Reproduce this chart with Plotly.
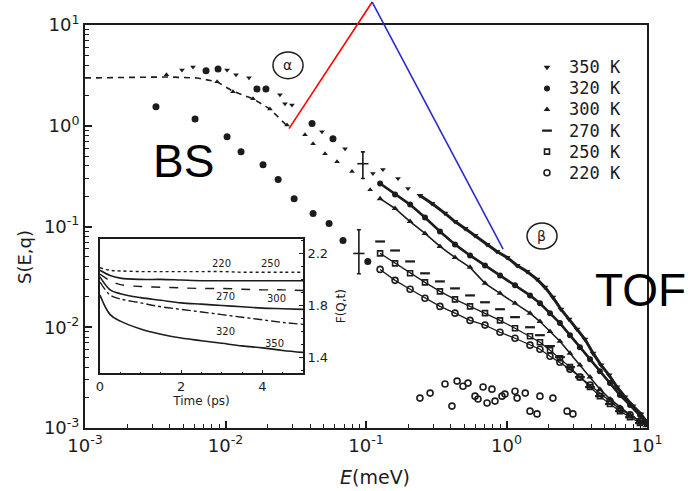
import plotly.graph_objects as go

# ---------------- main panel: S(E,q) versus E (log-log) ----------------
# backscattering (BS) range
bs350_E = [0.0049, 0.00587, 0.01026, 0.01189, 0.01469, 0.0244, 0.0265, 0.0297, 0.0486, 0.0709, 0.112, 0.132, 0.169, 0.199]
bs350_S = [3.58, 3.84, 3.58, 3.20, 2.99, 2.03, 1.65, 1.61, 0.873, 0.591, 0.335, 0.367, 0.299, 0.238]
bs320_E = [0.00727, 0.00885, 0.01675, 0.0194, 0.0413, 0.0582]
bs320_S = [3.51, 3.66, 2.32, 2.32, 1.05, 0.743]
bs300_E = [0.0038, 0.00871, 0.0113, 0.0157, 0.0207, 0.0274, 0.0368, 0.0420, 0.0511, 0.0622, 0.0795, 0.107]
bs300_S = [3.2, 2.73, 2.17, 1.85, 1.47, 1.02, 0.815, 0.664, 0.528, 0.440, 0.351, 0.232]
bs220_E = [0.0032, 0.00607, 0.01026, 0.0129, 0.0185, 0.0237, 0.0308, 0.042, 0.0546, 0.0686, 0.103]
bs220_S = [1.54, 1.17, 0.778, 0.553, 0.411, 0.292, 0.189, 0.1345, 0.107, 0.0727, 0.045]

# model curve through the low-energy BS plateau
fit_E = [0.001, 0.002, 0.0038, 0.0063, 0.0087, 0.0113, 0.0157, 0.0207, 0.0274]
fit_S = [2.98, 3.0, 3.05, 2.98, 2.73, 2.2, 1.85, 1.47, 1.0]

# time-of-flight (TOF) range
tof350_E = [0.242, 0.295, 0.365, 0.430, 0.507, 0.597, 0.727, 0.855, 1.01, 1.19, 1.40, 1.65, 1.88,
            2.14, 2.44, 2.79, 3.18, 3.62, 4.13, 4.71, 5.37, 6.12, 6.97, 7.95, 9.06, 9.84]
tof350_S = [0.203, 0.169, 0.135, 0.112, 0.0955, 0.0814, 0.0664, 0.0565, 0.0493, 0.0411, 0.0358, 0.0299, 0.0249,
            0.0198, 0.0151, 0.0120, 0.00955, 0.0076, 0.00553, 0.00421, 0.00335, 0.00255, 0.00203, 0.00165, 0.00138, 0.00117]

tof_E = [0.126, 0.161, 0.206, 0.263, 0.336, 0.430, 0.550, 0.703, 0.899, 1.15, 1.47, 1.73,
         2.04, 2.40, 2.83, 3.33, 3.93, 4.62, 5.45, 6.42, 7.57, 8.91, 9.84]
tof320_S = [0.267, 0.208, 0.165, 0.123, 0.0892, 0.0664, 0.0516, 0.0411, 0.0327, 0.0261, 0.0207, 0.0173,
            0.0138, 0.0110, 0.00834, 0.00634, 0.00482, 0.00366, 0.00279, 0.00212, 0.00169, 0.00135, 0.00115]
tof300_S = [0.189, 0.151, 0.112, 0.0853, 0.0634, 0.0493, 0.0393, 0.0273, 0.0217, 0.0173, 0.0138, 0.0114,
            0.0091, 0.00726, 0.00553, 0.00421, 0.0032, 0.00243, 0.00194, 0.00161, 0.00135, 0.00117, 0.00105]
tof270_S = [0.0710, 0.0578, 0.0450, 0.0343, 0.0285, 0.0243, 0.0207, 0.0177, 0.0151, 0.0126, 0.0100,
            0.00834, 0.0065, 0.00505, 0.00402, 0.0032, 0.00255, 0.00207, 0.00173, 0.00147, 0.00128, 0.00112]
tof250_S = [0.0541, 0.0431, 0.0343, 0.0279, 0.0227, 0.0189, 0.0161, 0.0138, 0.0117, 0.00977, 0.00815,
            0.0071, 0.00592, 0.00493, 0.00402, 0.0032, 0.00255, 0.00207, 0.00173, 0.00147, 0.00128, 0.00112]
tof220_S = [0.0375, 0.0292, 0.0238, 0.0194, 0.0161, 0.0138, 0.0117, 0.0105, 0.00892, 0.00778, 0.00664,
            0.00605, 0.00516, 0.0045, 0.00384, 0.0032, 0.00267, 0.00222, 0.00185, 0.00154, 0.00135, 0.00117]

# scattered low-intensity TOF points
low_E = [0.242, 0.286, 0.365, 0.409, 0.445, 0.490, 0.532, 0.597, 0.627, 0.681, 0.727, 0.788,
         0.828, 0.929, 0.975, 1.15, 1.19, 1.36, 1.47, 1.65, 1.73, 2.14, 2.70, 2.97]
low_S = [0.00198, 0.00222, 0.00273, 0.00165, 0.00292, 0.0026, 0.00279, 0.00207, 0.00194, 0.00255, 0.00177, 0.00243,
         0.00185, 0.00207, 0.00217, 0.00232, 0.00198, 0.00222, 0.00147, 0.00138, 0.00207, 0.00198, 0.00147, 0.00138]

# representative error bars
err_E = [0.095, 0.089]
err_S = [0.42, 0.054]
err_hi = [0.55, 0.093]
err_lo = [0.30, 0.034]

# axis ticks
dec_vals = [0.001, 0.01, 0.1, 1, 10]
dec_text = ["10<sup>-3</sup>", "10<sup>-2</sup>", "10<sup>-1</sup>", "10<sup>0</sup>", "10<sup>1</sup>"]
minor_vals = [m * 10.0 ** p for p in range(-3, 1) for m in range(2, 10)]

legend_names = ["350 K", "320 K", "300 K", "270 K", "250 K", "220 K"]

# ---------------- inset: F(Q,t) versus time ----------------
t_ps = [0, 0.25, 0.5, 1, 1.5, 2, 2.5, 3, 3.5, 4, 4.5, 5]
F220 = [2.09, 2.07, 2.065, 2.06, 2.06, 2.06, 2.06, 2.06, 2.055, 2.055, 2.055, 2.055]
F250 = [2.07, 2.03, 2.01, 2.00, 2.00, 1.995, 1.99, 1.99, 1.99, 1.99, 1.99, 1.99]
F270 = [2.04, 1.99, 1.96, 1.945, 1.94, 1.935, 1.93, 1.93, 1.925, 1.92, 1.92, 1.915]
F300 = [2.02, 1.92, 1.89, 1.86, 1.84, 1.82, 1.81, 1.80, 1.79, 1.78, 1.775, 1.77]
F320 = [1.98, 1.88, 1.85, 1.82, 1.79, 1.77, 1.75, 1.73, 1.71, 1.69, 1.67, 1.655]
F350 = [1.88, 1.73, 1.68, 1.62, 1.58, 1.55, 1.53, 1.51, 1.49, 1.475, 1.455, 1.44]
inset_lbl = ["220", "250", "270", "300", "320", "350"]
inset_lbl_t = [3.0, 4.2, 3.1, 4.35, 3.1, 4.3]
inset_lbl_F = [2.12, 2.12, 1.87, 1.855, 1.60, 1.51]

INK = "#1c1c1c"
TICKFONT = dict(family="DejaVu Sans", size=18, color=INK)

sym = {
    "350 K": dict(symbol="triangle-down", size=6, color=INK),
    "320 K": dict(symbol="circle", size=6, color=INK),
    "300 K": dict(symbol="triangle-up", size=6, color=INK),
    "270 K": dict(symbol="line-ew", size=7, color=INK, line=dict(width=2.2, color=INK)),
    "250 K": dict(symbol="square-open", size=5, color=INK, line=dict(width=1.6, color=INK)),
    "220 K": dict(symbol="circle-open", size=6, color=INK, line=dict(width=1.6, color=INK)),
}

fig = go.Figure()


def add(x, y, key, mode="markers", lw=0, size=None, **kw):
    m = dict(sym[key])
    if size is not None:
        m["size"] = size
    fig.add_trace(go.Scatter(x=x, y=y, mode=mode, marker=m, line=dict(color=INK, width=lw),
                             showlegend=False, hoverinfo="skip", **kw))


# BS
fig.add_trace(go.Scatter(x=fit_E, y=fit_S, mode="lines", line=dict(color=INK, width=1.6, dash="6px,5px"),
                         showlegend=False, hoverinfo="skip"))
add(bs350_E, bs350_S, "350 K", size=5)
add(bs320_E, bs320_S, "320 K", size=7)
add(bs300_E, bs300_S, "300 K", size=5)
fig.add_trace(go.Scatter(x=bs220_E, y=bs220_S, mode="markers",
                         marker=dict(symbol="circle", size=7, color=INK),
                         showlegend=False, hoverinfo="skip"))

# TOF
add(tof350_E, tof350_S, "350 K", mode="lines+markers", lw=3.0, size=6)
add(tof_E, tof320_S, "320 K", mode="lines+markers", lw=2.6, size=6)
add(tof_E, tof300_S, "300 K", mode="lines+markers", lw=1.6, size=6)
add(tof_E[:len(tof270_S)], tof270_S, "270 K")
add(tof_E[:len(tof250_S)], tof250_S, "250 K", mode="lines+markers", lw=1.3)
add(tof_E[:len(tof220_S)], tof220_S, "220 K", mode="lines+markers", lw=1.3)
add(low_E, low_S, "220 K")

# error bars
fig.add_trace(go.Scatter(
    x=err_E, y=err_S, mode="markers",
    marker=dict(symbol="line-ew", size=8, line=dict(width=1.6, color=INK)),
    error_y=dict(type="data", symmetric=False,
                 array=[h - s for h, s in zip(err_hi, err_S)],
                 arrayminus=[s - l for s, l in zip(err_S, err_lo)],
                 color=INK, thickness=1.6, width=2),
    showlegend=False, hoverinfo="skip"))

# key: one symbol per temperature on its own small frame
key_rows = list(range(len(legend_names)))
for i, name in enumerate(legend_names):
    fig.add_trace(go.Scatter(x=[7], y=[key_rows[i]], xaxis="x3", yaxis="y3", mode="markers",
                             marker=sym[name], showlegend=False, hoverinfo="skip"))

# inset curves
inset_series = [(F220, "dot", 1.4), (F250, "solid", 1.6), (F270, "dash", 1.4),
                (F300, "solid", 1.6), (F320, "dashdot", 1.4), (F350, "solid", 1.6)]
for vals, dash, w in inset_series:
    fig.add_trace(go.Scatter(x=t_ps, y=vals, xaxis="x2", yaxis="y2", mode="lines",
                             line=dict(color=INK, width=w, dash=dash, shape="spline"),
                             showlegend=False, hoverinfo="skip"))

axis_common = dict(type="log", range=[-3, 1], tickmode="array", tickvals=dec_vals, ticktext=dec_text,
                   ticks="inside", ticklen=7, tickwidth=1.5, tickcolor=INK,
                   showline=True, mirror=True, linewidth=2, linecolor=INK,
                   showgrid=False, zeroline=False, tickfont=TICKFONT,
                   minor=dict(tickmode="array", tickvals=minor_vals, ticks="inside", ticklen=4,
                              tickwidth=1, tickcolor=INK, showgrid=False))

hidden = dict(visible=False, showgrid=False, zeroline=False, fixedrange=True)

fig.update_layout(
    width=690, height=491,
    margin=dict(l=85, r=43, t=23, b=63),
    paper_bgcolor="white", plot_bgcolor="white",
    showlegend=False,
    xaxis=dict(axis_common, domain=[0, 1]),
    yaxis=dict(axis_common, domain=[0, 1]),
    xaxis2=dict(domain=[0.0267, 0.388], anchor="y2", range=[0, 5], tickmode="array",
                tickvals=[0, 2, 4], ticks="inside", ticklen=4, tickcolor=INK,
                showline=True, mirror=True, linewidth=1.5, linecolor=INK, showgrid=False, zeroline=False,
                tickfont=dict(family="DejaVu Sans", size=13, color=INK),
                minor=dict(ticks="inside", ticklen=2, dtick=0.5, tickcolor=INK),
                title=dict(text="Time (ps)", font=dict(family="DejaVu Sans", size=12, color=INK), standoff=4)),
    yaxis2=dict(domain=[0.1358, 0.469], anchor="x2", side="right", range=[1.28, 2.31], tickmode="array",
                tickvals=[1.4, 1.8, 2.2], ticktext=["1.4", "1.8", "2.2"], ticks="inside", ticklen=4, tickcolor=INK,
                showline=True, mirror=True, linewidth=1.5, linecolor=INK, showgrid=False, zeroline=False,
                tickfont=dict(family="DejaVu Sans", size=13, color=INK),
                minor=dict(ticks="inside", ticklen=2, dtick=0.1, tickcolor=INK),
                title=dict(text="F(Q,t)", font=dict(family="DejaVu Sans", size=12, color=INK), standoff=10)),
    xaxis3=dict(hidden, domain=[0.8096, 0.9875], anchor="y3", range=[0, 100]),
    yaxis3=dict(hidden, domain=[0.6074, 0.921], anchor="x3", range=[len(legend_names) - 0.5, -0.5]),
)

ann = [
    dict(text="S(E,q)", x=-0.108, y=0.425, xref="paper", yref="paper", textangle=-90, showarrow=False,
         xanchor="center", yanchor="middle", font=dict(family="DejaVu Sans", size=18, color=INK)),
    dict(text="<i>E</i>(meV)", x=0.516, y=-0.121, xref="paper", yref="paper", showarrow=False,
         xanchor="center", yanchor="middle", font=dict(family="DejaVu Sans", size=19, color=INK)),
    dict(text="BS", x=0.1744, y=0.662, xref="paper", yref="paper", showarrow=False,
         xanchor="center", yanchor="middle", font=dict(family="Liberation Sans", size=46, color="black")),
    dict(text="TOF", x=0.989, y=0.343, xref="paper", yref="paper", showarrow=False,
         xanchor="center", yanchor="middle", font=dict(family="Liberation Sans", size=46, color="black")),
    dict(text="α", x=0.361, y=0.90, xref="paper", yref="paper", showarrow=False,
         xanchor="center", yanchor="middle", font=dict(family="DejaVu Sans", size=14, color=INK)),
    dict(text="β", x=0.813, y=0.476, xref="paper", yref="paper", showarrow=False,
         xanchor="center", yanchor="middle", font=dict(family="DejaVu Sans", size=14, color=INK)),
]
for i, name in enumerate(legend_names):
    ann.append(dict(text=name, x=27, y=key_rows[i], xref="x3", yref="y3", showarrow=False,
                    xanchor="left", yanchor="middle",
                    font=dict(family="DejaVu Sans Mono", size=17, color=INK)))
for lbl, tx, fy in zip(inset_lbl, inset_lbl_t, inset_lbl_F):
    ann.append(dict(text=lbl, x=tx, y=fy, xref="x2", yref="y2", showarrow=False,
                    font=dict(family="DejaVu Sans", size=10, color=INK)))
fig.update_layout(annotations=ann)

fig.update_layout(shapes=[
    dict(type="circle", xref="paper", yref="paper", x0=0.3345, x1=0.388, y0=0.8667, y1=0.9333,
         line=dict(color=INK, width=1.5)),
    dict(type="circle", xref="paper", yref="paper", x0=0.7865, x1=0.8399, y0=0.4444, y1=0.5086,
         line=dict(color=INK, width=1.5)),
    dict(type="line", xref="paper", yref="paper", x0=0.363, y0=0.743, x1=0.511, y1=1.057,
         line=dict(color="#ff0000", width=1.6)),
    dict(type="line", xref="paper", yref="paper", x0=0.511, y0=1.057, x1=0.744, y1=0.444,
         line=dict(color="#2b2bc8", width=1.6)),
])

fig.write_html("out.html")
